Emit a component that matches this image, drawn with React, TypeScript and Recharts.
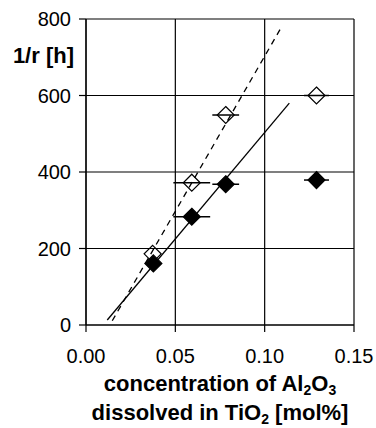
import {
  ComposedChart,
  Scatter,
  XAxis,
  YAxis,
  CartesianGrid,
  ErrorBar,
} from "recharts";

// measured points (x = mol% Al2O3, y = 1/r in h)
const openX = [0.0373, 0.0592, 0.0782, 0.129];
const openY = [186, 372, 549, 600];
const openErr = [0, 0.0103, 0.0075, 0.007];

const filledX = [0.0377, 0.0592, 0.0782, 0.129];
const filledY = [161, 283, 368, 379];
const filledErr = [0, 0.0103, 0.0075, 0.007];

// fitted lines (end points)
const dashedX = [0.0147, 0.1099];
const dashedY = [11, 783];
const solidX = [0.0119, 0.1138];
const solidY = [13, 580];

const xTicks = [0, 0.05, 0.1, 0.15];
const yTicks = [0, 200, 400, 600, 800];

const FONT = "Liberation Sans, Arial, sans-serif";

const toRows = (xs: number[], ys: number[], errs?: number[]) =>
  xs.map((x, i) => ({ x, y: ys[i], err: errs ? errs[i] : 0 }));

const openData = toRows(openX, openY, openErr);
const filledData = toRows(filledX, filledY, filledErr);
const dashedData = toRows(dashedX, dashedY);
const solidData = toRows(solidX, solidY);

const Diamond = (filled: boolean) => (props: any) => {
  const { cx, cy } = props;
  const r = 8.5;
  return (
    <polygon
      points={`${cx},${cy - r} ${cx + r},${cy} ${cx},${cy + r} ${cx - r},${cy}`}
      fill={filled ? "#000" : "none"}
      stroke="#000"
      strokeWidth={1.2}
    />
  );
};

const NoDot = () => <g />;

const XTitle = (props: any) => {
  const { viewBox } = props;
  const cx = viewBox.x + viewBox.width / 2;
  const textProps = {
    x: cx,
    textAnchor: "middle" as const,
    fontFamily: FONT,
    fontWeight: "bold",
    fontSize: 22,
    fill: "#000",
  };
  return (
    <g>
      <text {...textProps} y={391}>
        concentration of Al
        <tspan fontSize={14} dy={4}>2</tspan>
        <tspan dy={-4}>O</tspan>
        <tspan fontSize={14} dy={4}>3</tspan>
      </text>
      <text {...textProps} y={420}>
        dissolved in TiO
        <tspan fontSize={14} dy={4}>2</tspan>
        <tspan dy={-4}> [mol%]</tspan>
      </text>
    </g>
  );
};

const YTitle = () => (
  <text
    x={74}
    y={63}
    textAnchor="end"
    fontFamily={FONT}
    fontWeight="bold"
    fontSize={22}
    fill="#000"
  >
    1/r [h]
  </text>
);

export default function App() {
  return (
    <div style={{ position: "absolute", left: 0, top: 0, background: "#fff" }}>
      <ComposedChart
        width={376}
        height={428}
        margin={{ top: 19, right: 22, bottom: 0, left: 0 }}
      >
        <CartesianGrid stroke="#000" strokeWidth={1.2} />
        <XAxis
          type="number"
          dataKey="x"
          domain={[0, 0.15]}
          ticks={xTicks}
          tickFormatter={(v: number) => v.toFixed(2)}
          height={103}
          stroke="#000"
          strokeWidth={1.2}
          tickSize={7}
          tick={{ fill: "#000", fontSize: 20, fontFamily: FONT }}
          tickMargin={17}
          label={<XTitle />}
        />
        <YAxis
          type="number"
          dataKey="y"
          domain={[0, 800]}
          ticks={yTicks}
          width={86}
          stroke="#000"
          strokeWidth={1.2}
          tickSize={7}
          tickMargin={8}
          tick={{ fill: "#000", fontSize: 20, fontFamily: FONT }}
          label={<YTitle />}
        />
        <Scatter
          data={dashedData}
          line={{ stroke: "#000", strokeWidth: 1.3, strokeDasharray: "6 5" }}
          shape={NoDot}
          isAnimationActive={false}
        />
        <Scatter
          data={solidData}
          line={{ stroke: "#000", strokeWidth: 1.3 }}
          shape={NoDot}
          isAnimationActive={false}
        />
        <Scatter
          data={openData}
          shape={Diamond(false)}
          isAnimationActive={false}
        >
          <ErrorBar
            dataKey="err"
            direction="x"
            width={0}
            stroke="#000"
            strokeWidth={1.5}
          />
        </Scatter>
        <Scatter
          data={filledData}
          shape={Diamond(true)}
          isAnimationActive={false}
        >
          <ErrorBar
            dataKey="err"
            direction="x"
            width={0}
            stroke="#000"
            strokeWidth={1.5}
          />
        </Scatter>
      </ComposedChart>
    </div>
  );
}
